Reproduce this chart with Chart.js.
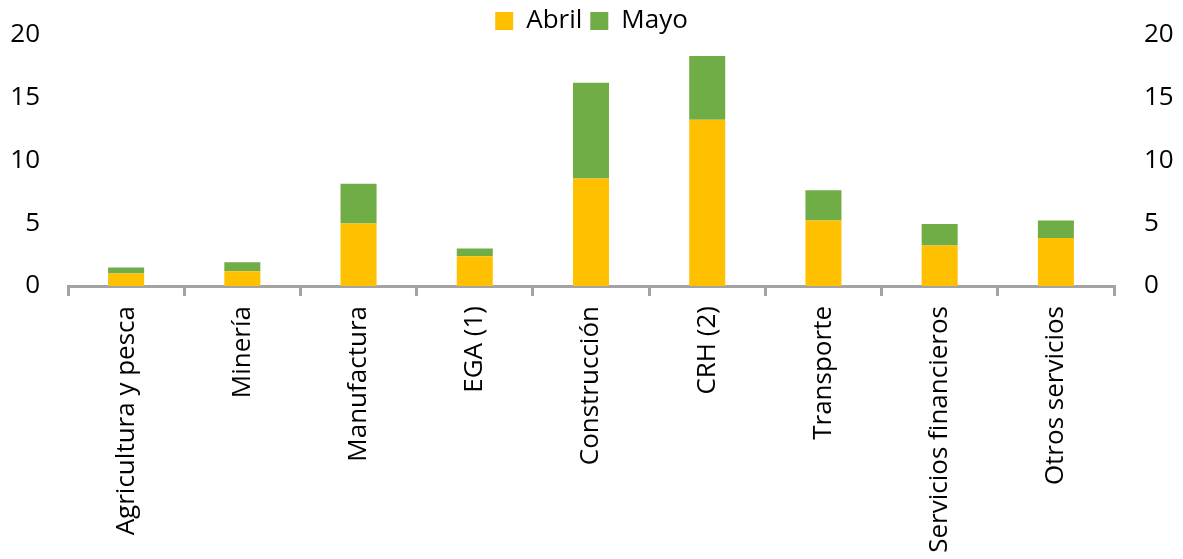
<!DOCTYPE html>
<html>
<head>
<meta charset="utf-8">
<script src="https://cdn.jsdelivr.net/npm/chart.js@4/dist/chart.umd.min.js"></script>
<style>
  html, body { margin: 0; padding: 0; background: #fff; }
  #wrap { width: 1183px; height: 559px; position: relative; }
</style>
</head>
<body>
<div id="wrap"><canvas id="c" width="1183" height="559"></canvas></div>
<script>
// Sectores económicos
const categories = [
  'Agricultura y pesca', 'Minería', 'Manufactura', 'EGA (1)', 'Construcción',
  'CRH (2)', 'Transporte', 'Servicios financieros', 'Otros servicios'
];
const abril = [1.0, 1.17, 4.98, 2.38, 8.57, 13.25, 5.21, 3.23, 3.83];
const mayo  = [0.48, 0.73, 3.17, 0.61, 7.62, 5.08, 2.41, 1.71, 1.38];
const yTicks = [0, 5, 10, 15, 20];

const FONT = '"Open Sans", "Liberation Sans", sans-serif';
const AXIS_GREY = '#a3a3a3';

// Fix the legend band height so the plot area starts where intended
const legendBand = {
  id: 'legendBand',
  beforeInit(chart) {
    const fit = chart.legend.fit;
    chart.legend.fit = function () {
      fit.call(this);
      this.height = 35;
    };
  }
};

const yCommon = {
  stacked: true,
  min: 0,
  max: 20,
  grid: { display: false, drawTicks: false },
  border: { display: false },
  afterBuildTicks(scale) { scale.ticks = yTicks.map(v => ({ value: v })); },
  ticks: { color: '#000', font: { family: FONT, size: 26 } }
};

// Side axes: fixed width, and no extra vertical padding pushed onto the plot area
function sideAxisFit(width) {
  return function (scale) {
    scale.width = width;
    scale.paddingTop = 0;
    scale.paddingBottom = 0;
  };
}

new Chart(document.getElementById('c'), {
  type: 'bar',
  data: {
    labels: categories,
    datasets: [
      { label: 'Abril', data: abril, backgroundColor: '#FFC000', borderWidth: 0, yAxisID: 'y' },
      { label: 'Mayo',  data: mayo,  backgroundColor: '#70AD47', borderWidth: 0, yAxisID: 'y' }
    ]
  },
  options: {
    responsive: false,
    animation: false,
    layout: { padding: 0 },
    datasets: { bar: { barPercentage: 0.31, categoryPercentage: 1 } },
    plugins: {
      tooltip: { enabled: false },
      legend: {
        position: 'top',
        labels: {
          boxWidth: 18,
          boxHeight: 18,
          padding: 8,
          color: '#000',
          font: { family: FONT, size: 26 }
        }
      }
    },
    scales: {
      x: {
        stacked: true,
        offset: true,
        grid: {
          display: true,
          drawOnChartArea: false,
          offset: true,
          tickLength: 10,
          color: AXIS_GREY,
          lineWidth: 3
        },
        border: { display: true, color: AXIS_GREY, width: 3 },
        ticks: {
          autoSkip: false,
          minRotation: 90,
          maxRotation: 90,
          padding: 10,
          color: '#000',
          font: { family: FONT, size: 26 }
        },
        afterFit(scale) {
          scale.height = 559 - 286;
          scale.paddingLeft = 0;
          scale.paddingRight = 0;
        }
      },
      y: Object.assign({}, yCommon, {
        position: 'left',
        ticks: Object.assign({}, yCommon.ticks, { padding: 28 }),
        afterFit: sideAxisFit(68)
      }),
      y2: Object.assign({}, yCommon, {
        position: 'right',
        ticks: Object.assign({}, yCommon.ticks, { padding: 30 }),
        afterFit: sideAxisFit(1183 - 1114)
      })
    }
  },
  plugins: [legendBand]
});
</script>
</body>
</html>
